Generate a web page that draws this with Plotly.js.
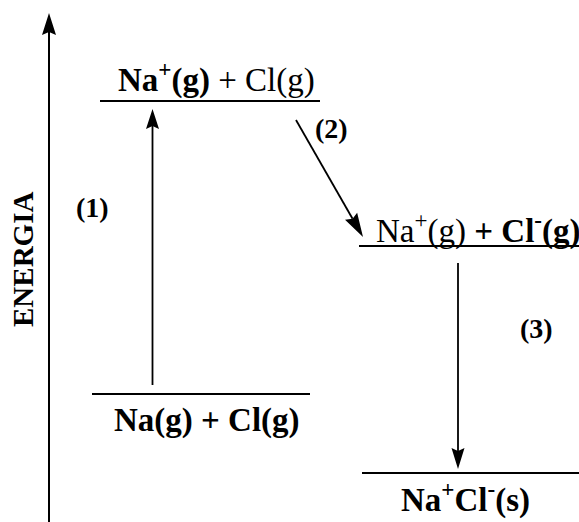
<!DOCTYPE html>
<html>
<head>
<meta charset="utf-8">
<script src="https://cdn.plot.ly/plotly-3.0.1.min.js"></script>
<style>html,body{margin:0;padding:0;background:#fff;}#chart{width:579px;height:522px;}</style>
</head>
<body>
<div id="chart"></div>
<script>
// Energy levels (y in diagram units, higher = more energy)
const levelLabels = [
  "<b>Na(g) + Cl(g)</b>",
  "<b>Na<sup>+</sup>(g)</b> + Cl(g)",
  "Na<sup>+</sup>(g) <b>+ Cl<sup>-</sup>(g)</b>",
  "<b>Na<sup>+</sup>Cl<sup>-</sup>(s)</b>"
];
const levelEnergy = [128, 421, 276, 49];
const levelStart = [92, 100, 359, 362];
const levelEnd = [310, 320, 579, 579];
const stepLabels = ["<b>(1)</b>", "<b>(2)</b>", "<b>(3)</b>"];
const axisTitle = "ENERGIA";

const W = 579, H = 522;
const traces = levelEnergy.map((e, i) => ({
  x: [levelStart[i], levelEnd[i]],
  y: [e, e],
  mode: 'lines',
  line: {color: '#000', width: 2},
  hoverinfo: 'skip',
  showlegend: false
}));

const font = {family: 'Liberation Serif, Times New Roman, serif', color: '#000'};
const ann = [];
const shapes = [];
// level labels
const labelPos = [
  {x: 207, dy: -26},
  {x: 216, dy: 24},
  {x: 478, dy: 18},
  {x: 465, dy: -24}
];
levelLabels.forEach((t, i) => {
  ann.push({x: labelPos[i].x, y: levelEnergy[i] + labelPos[i].dy, xref: 'x', yref: 'y',
    text: t, showarrow: false, font: Object.assign({size: 33}, font), xanchor: 'center', yanchor: 'middle'});
});
// arrows: shaft as a line trace, head as a filled path (axis units = pixels)
function arrow(x0, y0, x1, y1, L, hw, w) {
  const dx = x1 - x0, dy = y1 - y0, len = Math.hypot(dx, dy);
  const ux = dx / len, uy = dy / len, px = -uy, py = ux;
  const bx = x1 - ux * L, by = y1 - uy * L;
  const nx = x1 - ux * (L - 3), ny = y1 - uy * (L - 3);
  traces.push({x: [x0, nx], y: [y0, ny], mode: 'lines', line: {color: '#000', width: w},
    hoverinfo: 'skip', showlegend: false});
  shapes.push({type: 'path', xref: 'x', yref: 'y', fillcolor: '#000', line: {width: 0},
    path: `M${x1},${y1} L${bx + px * hw},${by + py * hw} L${nx},${ny} L${bx - px * hw},${by - py * hw} Z`});
}
arrow(152.5, levelEnergy[0] + 9, 152.5, levelEnergy[1] - 8, 20, 6.5, 1.8);
arrow(296, levelEnergy[1] - 19, 363, levelEnergy[2] + 9, 24, 7, 1.8);
arrow(458, levelEnergy[2] - 17, 458, levelEnergy[3] + 4, 21, 6.5, 1.8);
// energy axis
arrow(49, 0, 49, H - 13, 22, 7, 2);
// step labels
const stepPos = [[92, 315], [331, 394], [536, 194]];
stepLabels.forEach((t, i) => {
  ann.push({x: stepPos[i][0], y: stepPos[i][1], xref: 'x', yref: 'y', text: t, showarrow: false,
    font: Object.assign({size: 28}, font)});
});
ann.push({x: 23, y: H - 260, xref: 'x', yref: 'y', text: '<b>' + axisTitle + '</b>', showarrow: false,
  textangle: -90, font: Object.assign({size: 29}, font)});

Plotly.newPlot('chart', traces, {
  width: W, height: H,
  margin: {l: 0, r: 0, t: 0, b: 0},
  paper_bgcolor: '#fff', plot_bgcolor: '#fff',
  xaxis: {range: [0, W], visible: false, fixedrange: true},
  yaxis: {range: [0, H], visible: false, fixedrange: true},
  annotations: ann,
  shapes: shapes,
  showlegend: false
}, {displayModeBar: false, staticPlot: true});
</script>
</body>
</html>
